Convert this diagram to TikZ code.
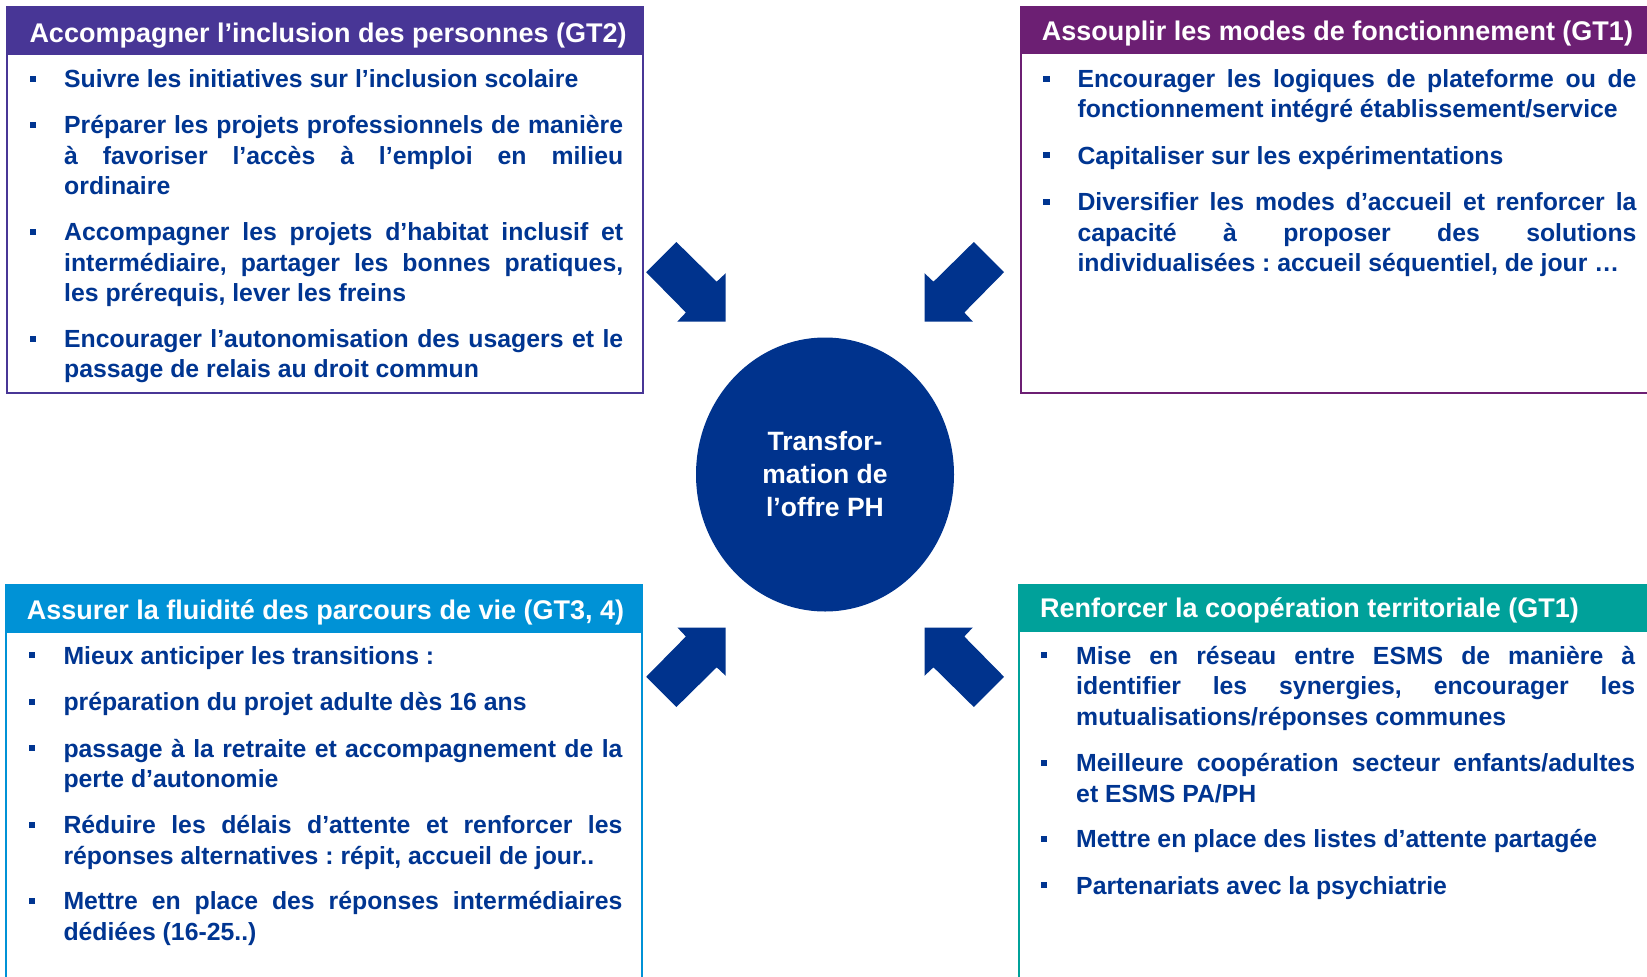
\documentclass[tikz,border=0pt]{standalone}
\usepackage{fontspec}
\setmainfont{Liberation Sans}
\usetikzlibrary{shapes.geometric}
\definecolor{tlc}{RGB}{72,54,150}
\definecolor{trc}{RGB}{108,31,115}
\definecolor{blc}{RGB}{0,146,214}
\definecolor{brc}{RGB}{0,161,154}
\definecolor{txtc}{RGB}{0,53,145}
\definecolor{circc}{RGB}{0,51,141}
\newcommand\jl[1]{{\spaceskip=0pt\xspaceskip=0pt\makebox[559pt][s]{#1}}}
\newcommand\bul[2]{\fill[txtc] (#1,#2-11.7) rectangle ++(6.2,6);}
\begin{document}
\begin{tikzpicture}[x=1pt,y=-1pt,
  hdr/.style={anchor=base west, inner sep=0pt, text=white, font=\fontsize{27}{32}\selectfont\bfseries\frenchspacing},
  itm/.style={anchor=base west, inner sep=0pt, text width=559pt, align=flush left, text=txtc, font=\fontsize{24.8}{30.5}\selectfont\bfseries\frenchspacing},
  frame/.style={line width=2pt},
  arrowfill/.style={fill=circc}]
\useasboundingbox (0,0) rectangle (1647,977);
\clip (0,0) rectangle (1647,977);

% ---------- boxes ----------
\fill[tlc] (7.3,7.3) rectangle (643.3,55);
\draw[frame, draw=tlc] (7.3,7.3) rectangle (643.3,393.3);
\fill[trc] (1020.7,7.3) rectangle (1665,54);
\draw[frame, draw=trc] (1020.7,7.3) rectangle (1665,393.3);
\fill[blc] (5.7,585) rectangle (642,633);
\draw[frame, draw=blc] (5.7,585) rectangle (642,995);
\fill[brc] (1018.5,585) rectangle (1665,632);
\draw[frame, draw=brc] (1018.5,585) rectangle (1665,995);

% ---------- headers ----------
\node[hdr] (h1) at (29.3,42.3) {Accompagner l’inclusion des personnes (GT2)};
\node[hdr] (h2) at (1041.7,40) {Assouplir les modes de fonctionnement (GT1)};
\node[hdr] (h3) at (26.7,619.3) {Assurer la fluidité des parcours de vie (GT3, 4)};
\node[hdr] (h4) at (1040,617) {Renforcer la coopération territoriale (GT1)};

% ---------- top left items ----------
\bul{30}{87.3}\bul{30}{133.5}\bul{30}{240.7}\bul{30}{347.2}
\node[itm] (a1) at (64,87.3) {Suivre les initiatives sur l’inclusion scolaire};
\node[itm] (a2) at (64,133.5) {\jl{Préparer les projets professionnels de manière}\\\jl{à favoriser l’accès à l’emploi en milieu}\\ordinaire};
\node[itm] (a3) at (64,240.7) {\jl{Accompagner les projets d’habitat inclusif et}\\\jl{intermédiaire, partager les bonnes pratiques,}\\les prérequis, lever les freins};
\node[itm] (a4) at (64,347.2) {\jl{Encourager l’autonomisation des usagers et le}\\passage de relais au droit commun};

% ---------- top right items ----------
\bul{1043.3}{87.3}\bul{1043.3}{164}\bul{1043.3}{210.5}
\node[itm] (b1) at (1077.3,87.3) {\jl{Encourager les logiques de plateforme ou de}\\fonctionnement intégré établissement/service};
\node[itm] (b2) at (1077.3,164) {Capitaliser sur les expérimentations};
\node[itm] (b3) at (1077.3,210.5) {\jl{Diversifier les modes d’accueil et renforcer la}\\\jl{capacité à proposer des solutions}\\individualisées : accueil séquentiel, de jour …};

% ---------- bottom left items ----------
\bul{29}{664}\bul{29}{710.5}\bul{29}{757}\bul{29}{833.5}\bul{29}{909.8}
\node[itm] (c1) at (63.3,664) {Mieux anticiper les transitions :};
\node[itm] (c2) at (63.3,710.5) {préparation du projet adulte dès 16 ans};
\node[itm] (c3) at (63.3,757) {\jl{passage à la retraite et accompagnement de la}\\perte d’autonomie};
\node[itm] (c4) at (63.3,833.5) {\jl{Réduire les délais d’attente et renforcer les}\\réponses alternatives : répit, accueil de jour..};
\node[itm] (c5) at (63.3,909.8) {\jl{Mettre en place des réponses intermédiaires}\\dédiées (16-25..)};

% ---------- bottom right items ----------
\bul{1040.7}{664}\bul{1040.7}{771.5}\bul{1040.7}{847.9}\bul{1040.7}{894.1}
\node[itm] (d1) at (1076,664) {\jl{Mise en réseau entre ESMS de manière à}\\\jl{identifier les synergies, encourager les}\\mutualisations/réponses communes};
\node[itm] (d2) at (1076,771.5) {\jl{Meilleure coopération secteur enfants/adultes}\\et ESMS PA/PH};
\node[itm] (d3) at (1076,847.9) {Mettre en place des listes d’attente partagée};
\node[itm] (d4) at (1076,894.1) {Partenariats avec la psychiatrie};

% ---------- centre ----------
\node[ellipse, fill=circc, minimum width=258pt, minimum height=274pt, inner sep=0pt,
      text=white, align=center, font=\fontsize{26.5}{33}\selectfont\bfseries] (c) at (825,474.5)
      {Transfor-\\mation de\\l’offre PH};

% ---------- arrows ----------
\begin{scope}[shift={(725.7,321.5)}]
\fill[arrowfill] (0,0) -- (0,-48.3) -- (-9,-39.8) -- (-49.3,-79.5) -- (-79.5,-49.3) -- (-39.8,-9) -- (-48.3,0) -- cycle;
\end{scope}
\begin{scope}[shift={(924.5,321.5)}, xscale=-1]
\fill[arrowfill] (0,0) -- (0,-48.3) -- (-9,-39.8) -- (-49.3,-79.5) -- (-79.5,-49.3) -- (-39.8,-9) -- (-48.3,0) -- cycle;
\end{scope}
\begin{scope}[shift={(725.7,627.5)}, yscale=-1]
\fill[arrowfill] (0,0) -- (0,-48.3) -- (-9,-39.8) -- (-49.3,-79.5) -- (-79.5,-49.3) -- (-39.8,-9) -- (-48.3,0) -- cycle;
\end{scope}
\begin{scope}[shift={(924.5,627.5)}, xscale=-1, yscale=-1]
\fill[arrowfill] (0,0) -- (0,-48.3) -- (-9,-39.8) -- (-49.3,-79.5) -- (-79.5,-49.3) -- (-39.8,-9) -- (-48.3,0) -- cycle;
\end{scope}
\end{tikzpicture}
\end{document}
